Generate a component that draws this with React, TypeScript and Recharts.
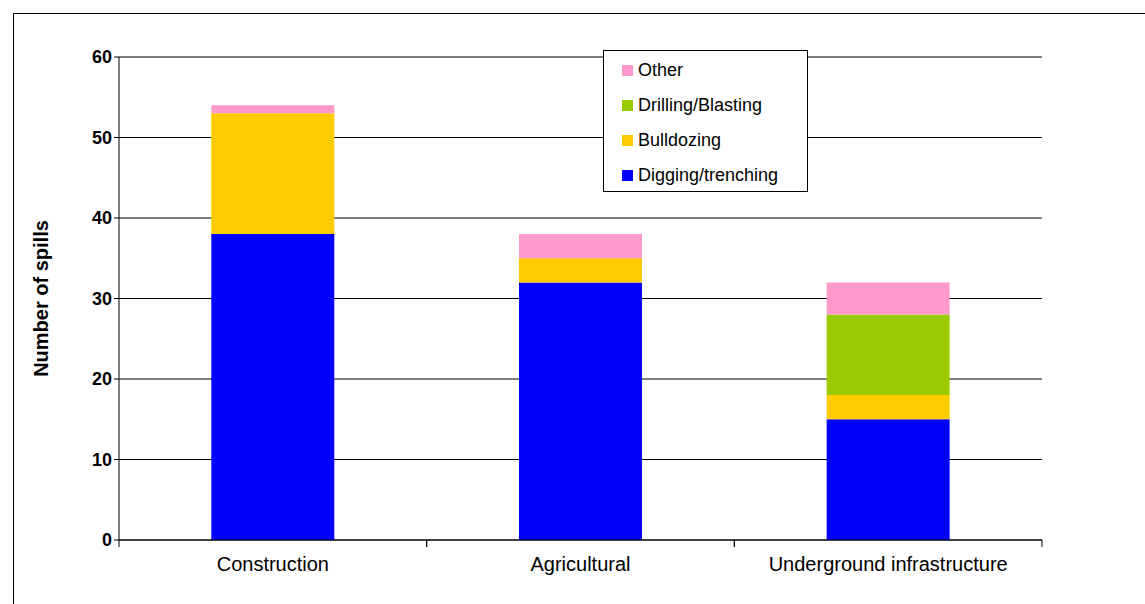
import React from 'react'
import { BarChart, Bar, XAxis, YAxis, CartesianGrid } from 'recharts'

const categories = ['Construction', 'Agricultural', 'Underground infrastructure']
const digging = [38, 32, 15]
const bulldozing = [15, 3, 3]
const drilling = [0, 0, 10]
const other = [1, 3, 4]
const yTicks = [0, 10, 20, 30, 40, 50, 60]

const data = categories.map((name, i) => ({
    name,
    digging: digging[i],
    bulldozing: bulldozing[i],
    drilling: drilling[i],
    other: other[i],
}))

const legendItems = [
    { label: 'Other', color: '#ff99cc' },
    { label: 'Drilling/Blasting', color: '#99cc00' },
    { label: 'Bulldozing', color: '#ffcc00' },
    { label: 'Digging/trenching', color: '#0000ff' },
]

const band = 923 / 3

const XTick = (props: any) => {
    const { x, y, payload } = props
    return (
        <g>
            <line x1={x - band / 2} x2={x - band / 2} y1={y - 8} y2={y - 1} stroke="#000" />
            <line x1={x + band / 2} x2={x + band / 2} y1={y - 8} y2={y - 1} stroke="#000" />
            <text x={x} y={y + 23} textAnchor="middle" fontSize={20} fill="#000">{payload.value}</text>
        </g>
    )
}

export default function App() {
    return (
        <div style={{ position: 'absolute', left: 0, top: 0, width: 1145, height: 604, background: '#fff', fontFamily: '"Liberation Sans", Arial, sans-serif' }}>
            <div style={{ position: 'absolute', left: 13, top: 13, width: 1140, height: 600, borderLeft: '1px solid #000', borderTop: '1px solid #000' }} />
            <BarChart width={1145} height={604} data={data} margin={{ top: 57, right: 103, left: 59, bottom: 64 - 30 }} barCategoryGap="30%">
                <CartesianGrid vertical={false} stroke="#000" />
                <XAxis dataKey="name" tickLine={false} stroke="#000" tick={<XTick />} height={30} interval={0} />
                <YAxis
                    width={60}
                    domain={[0, 60]}
                    ticks={yTicks}
                    stroke="#000"
                    tickSize={5}
                    tick={{ fill: '#000', fontSize: 18, fontWeight: 'bold' }}
                    label={{ value: 'Number of spills', angle: -90, position: 'insideLeft', offset: -18, style: { fontSize: 20, fontWeight: 'bold', fill: '#000', textAnchor: 'middle' } }}
                />
                <Bar dataKey="digging" stackId="a" fill="#0000ff" isAnimationActive={false} />
                <Bar dataKey="bulldozing" stackId="a" fill="#ffcc00" isAnimationActive={false} />
                <Bar dataKey="drilling" stackId="a" fill="#99cc00" isAnimationActive={false} />
                <Bar dataKey="other" stackId="a" fill="#ff99cc" isAnimationActive={false} />
            </BarChart>
            <div style={{ position: 'absolute', left: 603, top: 50, width: 205, height: 142, border: '1px solid #000', background: '#fff', boxSizing: 'border-box', padding: '2px 0 0 18px' }}>
                {legendItems.map(it => (
                    <div key={it.label} style={{ display: 'flex', alignItems: 'center', height: 35, fontSize: 18 }}>
                        <span style={{ width: 11, height: 11, background: it.color, marginRight: 5 }} />
                        {it.label}
                    </div>
                ))}
            </div>
        </div>
    )
}
